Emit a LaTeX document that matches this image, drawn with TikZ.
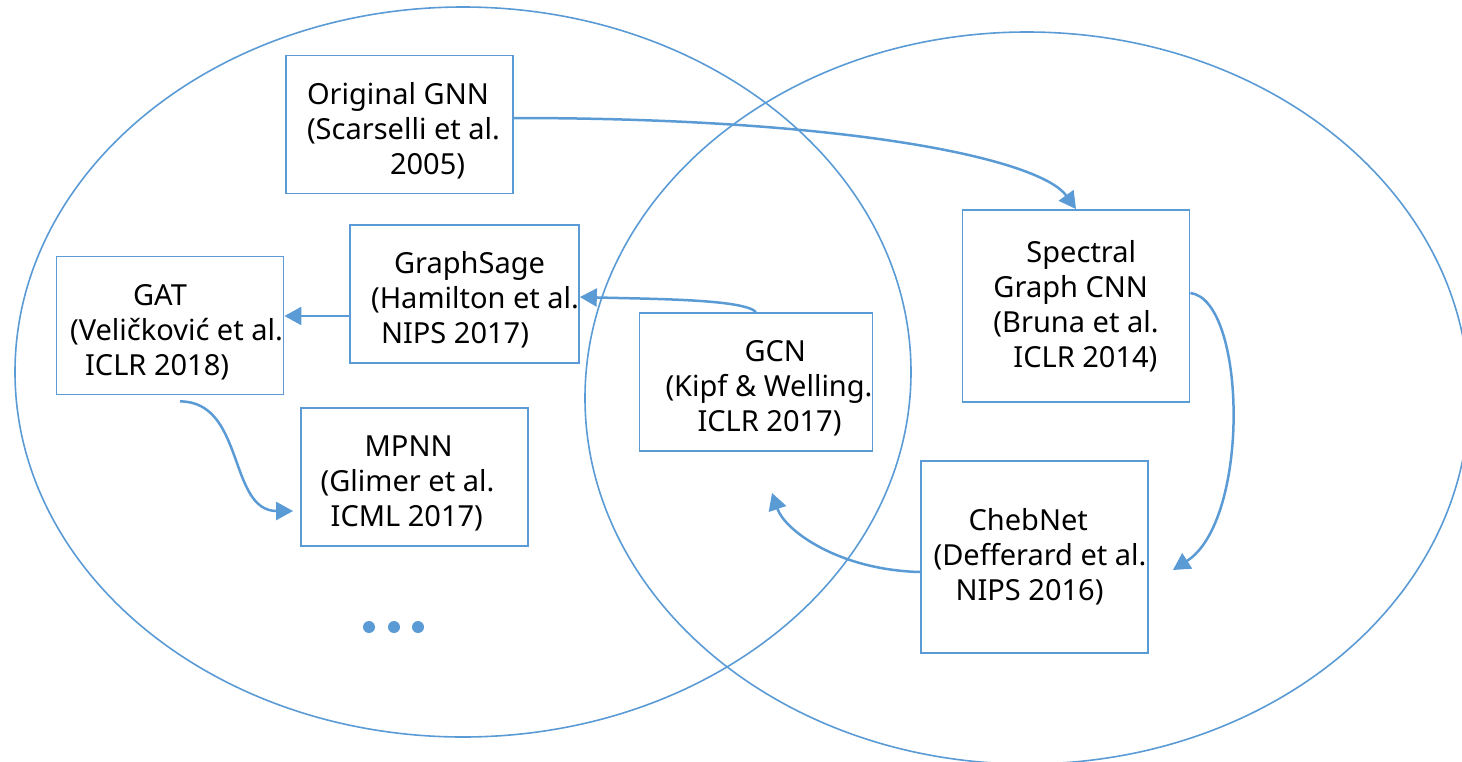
\documentclass[tikz,border=0pt]{standalone}
\usepackage{fontspec}
\setmainfont{Noto Sans}
\usetikzlibrary{arrows.meta}
\definecolor{lineblue}{HTML}{5B9BD5}
\newcommand{\tstrut}{\rule{0pt}{17pt}}
\tikzstyle{family} = [draw=lineblue, line width=0.8pt]
\tikzstyle{paper} = [rectangle, minimum width=113.5pt, minimum height=69pt, inner sep=0pt, align=left, draw=lineblue, line width=0.9pt, font=\fontsize{14.5}{17.5}\selectfont]
\tikzstyle{paper_tall} = [paper, minimum height=96pt]
\tikzstyle{arrow} = [draw=lineblue, line width=1.25pt, -{Triangle[length=8.5pt,width=9pt]}]

\begin{document}
\begin{tikzpicture}[x=0.5pt, y=-0.5pt]
		\useasboundingbox (0,0) rectangle (1462,761);
		\clip (0,0) rectangle (1462,761);

		% spatial and spectral families
		\draw [family] (463,372) ellipse (224pt and 182.5pt);
		\draw [family] (1027,398) ellipse (221pt and 183pt);

		\node (orig) [paper] at (399.5,124.5) {\tstrut\hspace*{4pt}Original GNN\\\hspace*{4pt}(Scarselli et al.\\\hspace*{45.5pt}2005)};
		\node (gat) [paper] at (170,325.5) {\tstrut\hspace*{38pt}GAT\\\hspace*{6.5pt}(Veličković et al.\\\hspace*{14pt}ICLR 2018)};
		\node (sage) [paper] at (464.5,294) {\tstrut\hspace*{22pt}GraphSage\\\hspace*{10.5pt}(Hamilton et al.\\\hspace*{15.5pt}NIPS 2017)};
		\node (mpnn) [paper] at (414.5,477) {\tstrut\hspace*{22pt}MPNN\rule{7pt}{0pt}\\(Glimer et al.\rule{7pt}{0pt}\\\hspace*{5pt}ICML 2017)\rule{7pt}{0pt}};
		\node (gcn) [paper] at (756,382) {\tstrut\hspace*{52.5pt}GCN\\\hspace*{13pt}(Kipf \& Welling.\\\hspace*{29pt}ICLR 2017)};
		\node (spec) [paper_tall] at (1076,306) {\hspace*{16.5pt}Spectral\\Graph CNN\\(Bruna et al.\\\hspace*{10pt}ICLR 2014)};
		\node (cheb) [paper_tall] at (1034.5,557) {\hspace*{23pt}ChebNet\\\hspace*{5.5pt}(Defferard et al.\\\hspace*{16.5pt}NIPS 2016)};

		\foreach \x in {369,394,418}
			\fill [lineblue] (\x,627) circle (3pt);

		\draw [arrow] ([yshift=3.25pt]orig.east) .. controls +(337,0) and +(-36,-50) .. (spec.north);
		\draw [arrow] ([yshift=6.5pt]spec.east) .. controls +(56,7) and +(78,-50) .. ([xshift=12pt,yshift=-6.5pt]cheb.east);
		\draw [arrow] (gcn.north) .. controls +(-12,-13) and +(72,2) .. ([yshift=-1.5pt]sage.east);
		\draw [arrow] ([yshift=-11pt]sage.west) -- ([yshift=-11pt]sage.west -| gat.east);
		\draw [arrow] ([xshift=5pt,yshift=-3pt]gat.south) .. controls +(65,0) and +(-65,0) .. ([xshift=-3.5pt,yshift=-17pt]mpnn.west);
		\draw [arrow] ([yshift=-7.5pt]cheb.west) .. controls +(-81,-2) and +(13,38) .. ([xshift=8pt,yshift=-20.5pt]gcn.south);

		\end{tikzpicture}
\end{document}
